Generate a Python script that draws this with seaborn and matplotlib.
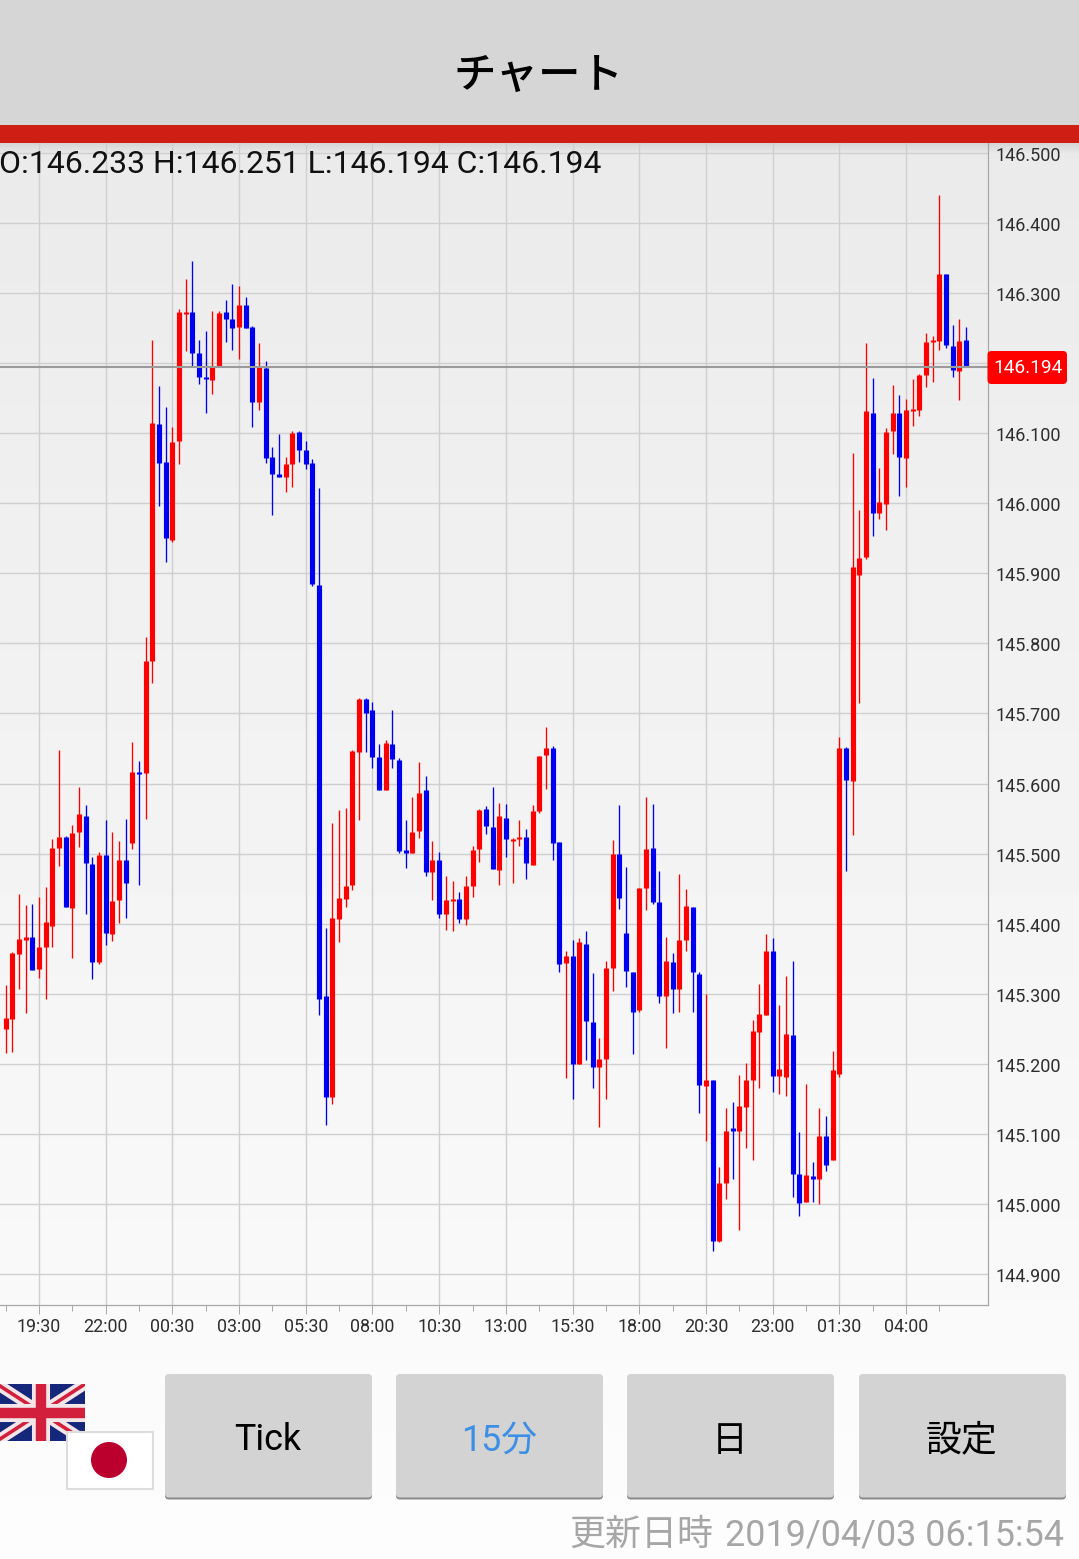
import numpy as np
import pandas as pd
import seaborn as sns
import matplotlib.pyplot as plt
from matplotlib.patches import FancyBboxPatch, Rectangle, Circle
from matplotlib.ticker import MultipleLocator, FormatStrFormatter
from matplotlib.transforms import ScaledTranslation

# 15 minute bars, first bar is cut by the left edge
bar_open = [145.294, 145.250, 145.264, 145.357, 145.377, 145.381, 145.336, 145.367, 145.397, 145.508,
            145.524, 145.423, 145.531, 145.554, 145.485, 145.346, 145.498, 145.386, 145.434, 145.491,
            145.515, 145.617, 145.615, 145.775, 146.113, 146.059, 145.948, 146.089, 146.270, 146.273,
            146.214, 146.180, 146.176, 146.196, 146.273, 146.263, 146.252, 146.283, 146.252, 146.145,
            146.193, 146.066, 146.042, 146.038, 146.056, 146.102, 146.076, 146.057, 145.883, 145.297,
            145.153, 145.407, 145.436, 145.456, 145.645, 145.721, 145.705, 145.638, 145.591, 145.657,
            145.634, 145.505, 145.501, 145.533, 145.591, 145.474, 145.491, 145.414, 145.433, 145.436,
            145.407, 145.454, 145.507, 145.564, 145.538, 145.477, 145.551, 145.518, 145.521, 145.524,
            145.484, 145.561, 145.641, 145.651, 145.517, 145.344, 145.354, 145.200, 145.371, 145.260,
            145.196, 145.207, 145.337, 145.500, 145.387, 145.331, 145.277, 145.451, 145.508, 145.431,
            145.297, 145.346, 145.307, 145.377, 145.424, 145.329, 145.169, 145.177, 144.948, 145.030,
            145.106, 145.105, 145.139, 145.177, 145.246, 145.270, 145.361, 145.183, 145.182, 145.242,
            145.043, 145.003, 145.040, 145.036, 145.097, 145.063, 145.186, 145.651, 145.604, 145.898,
            145.923, 146.129, 145.986, 145.999, 146.103, 146.129, 146.065, 146.132, 146.133, 146.183,
            146.230, 146.232, 146.327, 146.224, 146.189, 146.233]
bar_high = [145.313, 145.313, 145.360, 145.443, 145.427, 145.428, 145.438, 145.453, 145.521, 145.648,
            145.525, 145.541, 145.595, 145.570, 145.495, 145.503, 145.548, 145.531, 145.518, 145.550,
            145.660, 145.632, 145.809, 146.233, 146.167, 146.137, 146.109, 146.277, 146.320, 146.346,
            146.233, 146.246, 146.274, 146.274, 146.290, 146.313, 146.310, 146.294, 146.253, 146.229,
            146.203, 146.080, 146.099, 146.066, 146.103, 146.103, 146.089, 146.063, 146.022, 145.394,
            145.544, 145.563, 145.565, 145.648, 145.722, 145.722, 145.717, 145.657, 145.662, 145.705,
            145.637, 145.548, 145.581, 145.631, 145.611, 145.518, 145.503, 145.468, 145.461, 145.446,
            145.468, 145.511, 145.564, 145.568, 145.595, 145.572, 145.571, 145.523, 145.548, 145.535,
            145.570, 145.640, 145.681, 145.654, 145.517, 145.361, 145.377, 145.380, 145.390, 145.330,
            145.237, 145.347, 145.520, 145.570, 145.481, 145.331, 145.451, 145.581, 145.571, 145.476,
            145.381, 145.359, 145.471, 145.450, 145.424, 145.331, 145.300, 145.177, 145.053, 145.137,
            145.146, 145.184, 145.202, 145.263, 145.314, 145.386, 145.380, 145.284, 145.326, 145.347,
            145.103, 145.172, 145.060, 145.137, 145.126, 145.219, 145.667, 145.652, 146.072, 145.990,
            146.229, 146.179, 146.050, 146.107, 146.169, 146.155, 146.149, 146.177, 146.184, 146.243,
            146.239, 146.440, 146.327, 146.254, 146.263, 146.251]
bar_low = [145.246, 145.216, 145.217, 145.307, 145.273, 145.334, 145.323, 145.292, 145.367, 145.483,
           145.424, 145.351, 145.510, 145.414, 145.321, 145.343, 145.370, 145.376, 145.401, 145.408,
           145.507, 145.456, 145.550, 145.744, 145.996, 145.916, 145.945, 146.056, 146.217, 146.194,
           146.170, 146.129, 146.156, 146.196, 146.230, 146.219, 146.206, 146.250, 146.109, 146.133,
           146.057, 145.983, 146.038, 146.016, 146.023, 146.059, 146.049, 145.882, 145.270, 145.113,
           145.143, 145.374, 145.424, 145.448, 145.548, 145.645, 145.622, 145.591, 145.591, 145.622,
           145.501, 145.480, 145.501, 145.523, 145.468, 145.434, 145.408, 145.391, 145.390, 145.401,
           145.398, 145.438, 145.488, 145.528, 145.478, 145.456, 145.495, 145.458, 145.511, 145.464,
           145.484, 145.558, 145.592, 145.491, 145.331, 145.180, 145.150, 145.200, 145.205, 145.166,
           145.110, 145.150, 145.304, 145.421, 145.310, 145.214, 145.274, 145.420, 145.428, 145.287,
           145.223, 145.273, 145.274, 145.361, 145.274, 145.130, 145.090, 144.933, 144.946, 145.008,
           145.036, 144.963, 145.080, 145.063, 145.166, 145.270, 145.160, 145.157, 145.155, 145.010,
           144.983, 145.003, 145.003, 145.000, 145.048, 145.063, 145.182, 145.476, 145.527, 145.715,
           145.921, 145.953, 145.978, 145.962, 146.070, 146.010, 146.023, 146.110, 146.125, 146.166,
           146.173, 146.219, 146.222, 146.180, 146.147, 146.194]
bar_close = [145.249, 145.266, 145.359, 145.378, 145.381, 145.334, 145.367, 145.403, 145.508, 145.524,
             145.424, 145.530, 145.557, 145.487, 145.346, 145.498, 145.387, 145.433, 145.491, 145.458,
             145.617, 145.614, 145.775, 146.115, 146.057, 145.951, 146.087, 146.273, 146.273, 146.214,
             146.180, 146.177, 146.194, 146.271, 146.263, 146.250, 146.283, 146.250, 146.145, 146.194,
             146.065, 146.042, 146.038, 146.056, 146.100, 146.076, 146.056, 145.885, 145.292, 145.153,
             145.408, 145.437, 145.454, 145.647, 145.721, 145.701, 145.638, 145.591, 145.658, 145.635,
             145.504, 145.501, 145.531, 145.587, 145.474, 145.491, 145.414, 145.434, 145.436, 145.407,
             145.454, 145.505, 145.563, 145.540, 145.478, 145.554, 145.521, 145.521, 145.524, 145.487,
             145.561, 145.640, 145.651, 145.515, 145.343, 145.354, 145.200, 145.374, 145.262, 145.195,
             145.207, 145.337, 145.500, 145.437, 145.333, 145.274, 145.451, 145.507, 145.431, 145.297,
             145.347, 145.307, 145.377, 145.426, 145.331, 145.170, 145.177, 144.948, 145.030, 145.105,
             145.105, 145.140, 145.177, 145.247, 145.271, 145.361, 145.183, 145.193, 145.243, 145.043,
             145.002, 145.042, 145.036, 145.097, 145.056, 145.192, 145.651, 145.605, 145.909, 145.922,
             146.132, 145.986, 146.002, 146.102, 146.129, 146.066, 146.133, 146.133, 146.183, 146.230,
             146.232, 146.327, 146.226, 146.190, 146.232, 146.194]
first_bar = -6

time_labels = ["19:30", "22:00", "00:30", "03:00", "05:30", "08:00", "10:30",
               "13:00", "15:30", "18:00", "20:30", "23:00", "01:30", "04:00"]
button_labels = ["Tick", "15分", "日", "設定"]
button_colors = ["#000000", "#3d8fe6", "#000000", "#000000"]
title = "チャート"
updated_label = "更新日時"
updated_time = "2019/04/03 06:15:54"

W, H = 1079, 1559
UP, DOWN = "#ff0000", "#0000f0"
TEXT_FONTS = ["Roboto", "Noto Sans CJK JP", "DejaVu Sans"]


def make_frames():
    bars = pd.DataFrame({"open": bar_open, "high": bar_high, "low": bar_low, "close": bar_close})
    bars["bar"] = np.arange(len(bars)) + first_bar
    bars["side"] = np.where(bars["close"] < bars["open"], "down", "up")
    bars["body_low"] = bars[["open", "close"]].min(axis=1)
    # very flat bars still show as a small dash
    bars["body_high"] = np.maximum(bars[["open", "close"]].max(axis=1), bars["body_low"] + 0.003)
    wicks = bars.melt(id_vars=["bar", "side"], value_vars=["low", "high"], value_name="price")
    bodies = bars.melt(id_vars=["bar", "side"], value_vars=["body_low", "body_high"], value_name="price")
    return bars, wicks, bodies


def plot_candles(ax, wicks, bodies):
    palette = {"up": UP, "down": DOWN}
    sns.lineplot(data=wicks, x="bar", y="price", hue="side", units="bar", estimator=None,
                 palette=palette, legend=False, linewidth=0.95, solid_capstyle="butt", ax=ax, zorder=3)
    sns.lineplot(data=bodies, x="bar", y="price", hue="side", units="bar", estimator=None,
                 palette=palette, legend=False, linewidth=3.7, solid_capstyle="butt", ax=ax, zorder=4)
    ax.axhline(bar_close[-1], color="#9a9a9a", linewidth=1.5, zorder=5)

    ax.set_xlim(-5.85, 142.22)
    ax.set_ylim(144.8562, 146.5138)
    ax.set(xlabel="", ylabel="")
    ax.patch.set_visible(False)

    ax.set_xticks(np.arange(len(time_labels)) * 10)
    ax.set_xticklabels(time_labels)
    ax.xaxis.set_minor_locator(MultipleLocator(10, offset=5))
    ax.yaxis.set_major_locator(MultipleLocator(0.1))
    ax.yaxis.set_minor_locator(MultipleLocator(0.05))
    ax.yaxis.set_major_formatter(FormatStrFormatter("%.3f"))
    ax.yaxis.tick_right()

    ax.grid(which="major", color="#cfcfcf", linewidth=1.0)
    ax.grid(which="minor", visible=False)
    ax.tick_params(axis="x", which="major", bottom=True, length=6.5, width=0.7, color="#a8a8a8",
                   labelsize=12.9, labelcolor="#2e2e2e", pad=2.8)
    ax.tick_params(axis="x", which="minor", bottom=True, length=4.2, width=0.7, color="#a8a8a8")
    ax.tick_params(axis="y", which="both", right=True, left=False, labelright=True, labelleft=False,
                   length=5.2, width=0.7, color="#a8a8a8", labelsize=13, labelcolor="#2e2e2e", pad=0.6)
    sns.despine(ax=ax, left=True, top=True, right=False, bottom=False)
    for side in ("right", "bottom"):
        ax.spines[side].set_color("#a8a8a8")
        ax.spines[side].set_linewidth(0.9)

    # the price labels sit a pixel under their ticks
    nudge = ScaledTranslation(0, -1 / 100, ax.figure.dpi_scale_trans)
    for label in ax.yaxis.get_ticklabels():
        label.set_transform(label.get_transform() + nudge)


def draw_uk_flag(ui):
    box = Rectangle((-3, 1384), 88, 57, facecolor="#14277a", edgecolor="none", zorder=2)
    ui.add_patch(box)
    x0, x1, y0, y1, cx, cy = -3, 85, 1384, 1441, 41, 1412.5
    pieces = [([x0, x1], [y0, y1], "#f4e6e8", 8), ([x0, x1], [y1, y0], "#f4e6e8", 8),
              ([x0, x1], [y0, y1], "#d2203c", 2.6), ([x0, x1], [y1, y0], "#d2203c", 2.6),
              ([cx, cx], [y0, y1], "#f4e6e8", 13), ([x0, x1], [cy, cy], "#f4e6e8", 13),
              ([cx, cx], [y0, y1], "#d2203c", 7.5), ([x0, x1], [cy, cy], "#d2203c", 7.5)]
    for xs, ys, color, width in pieces:
        line, = ui.plot(xs, ys, color=color, linewidth=width, solid_capstyle="butt", zorder=3)
        line.set_clip_path(box)


def draw_chrome(ui):
    ui.set_xlim(0, W)
    ui.set_ylim(H, 0)
    ui.axis("off")

    ui.add_patch(Rectangle((0, 0), W, 125, facecolor="#d6d6d6", edgecolor="none"))
    ui.add_patch(Rectangle((0, 125), W, 18, facecolor="#cf1f14", edgecolor="none"))
    ui.text(538.5, 76, title, ha="center", va="center", fontsize=30.6, color="#000000",
            family=TEXT_FONTS, weight="medium")

    ohlc = "O:%.3f H:%.3f L:%.3f C:%.3f" % (bar_open[-1], bar_high[-1], bar_low[-1], bar_close[-1])
    ui.text(-1, 164, ohlc, ha="left", va="center", fontsize=22.95, color="#111111", family=TEXT_FONTS)

    # current price tag on the axis
    ui.add_patch(FancyBboxPatch((987.5, 351), 79.5, 33, boxstyle="round,pad=0,rounding_size=4",
                                facecolor="#ff0000", edgecolor="none"))
    ui.text(1028, 368, "%.3f" % bar_close[-1], ha="center", va="center", fontsize=13.8,
            color="white", family=TEXT_FONTS)

    draw_uk_flag(ui)
    ui.add_patch(Rectangle((67, 1432), 85.5, 56.5, facecolor="white", edgecolor="#dddddd", linewidth=1.5, zorder=4))
    ui.add_patch(Circle((109, 1460), 18, facecolor="#bc002d", edgecolor="none", zorder=5))

    lefts = [165, 396, 627, 859]
    for left, label, color in zip(lefts, button_labels, button_colors):
        ui.add_patch(FancyBboxPatch((left, 1376), 207, 123.5, boxstyle="round,pad=0,rounding_size=4",
                                    facecolor="#8a8a8a", edgecolor="none"))
        ui.add_patch(FancyBboxPatch((left, 1374), 207, 123.5, boxstyle="round,pad=0,rounding_size=4",
                                    facecolor="#d3d3d3", edgecolor="none"))
        ui.text(left + 103, 1440.5, label, ha="center", va="center", fontsize=25.8, color=color, family=TEXT_FONTS)

    ui.text(1064, 1535, updated_time, ha="right", va="center", fontsize=25.9, color="#a6a6a6", family=TEXT_FONTS)
    ui.text(569, 1534.5, updated_label, ha="left", va="center", fontsize=25.9, color="#a6a6a6", family=TEXT_FONTS)


def main():
    sns.set_theme(style="whitegrid")
    plt.rcParams["font.family"] = TEXT_FONTS

    bars, wicks, bodies = make_frames()

    fig = plt.figure(figsize=(W / 100, H / 100), dpi=100)
    back = fig.add_axes([0, 0, 1, 1], zorder=0)
    rows = np.arange(H)
    shade = np.interp(rows, [0, 143, 153, 400, 1300, H], [220, 214, 234, 238, 249, 253])
    back.imshow(shade[:, None], cmap="gray", vmin=0, vmax=255, aspect="auto")
    back.axis("off")

    ax = fig.add_axes([0, (H - 1305) / H, 987.5 / W, (1305 - 143) / H], zorder=1)
    plot_candles(ax, wicks, bodies)

    ui = fig.add_axes([0, 0, 1, 1], zorder=2)
    ui.patch.set_visible(False)
    draw_chrome(ui)

    fig.savefig("out.png", dpi=100)


if __name__ == "__main__":
    main()
